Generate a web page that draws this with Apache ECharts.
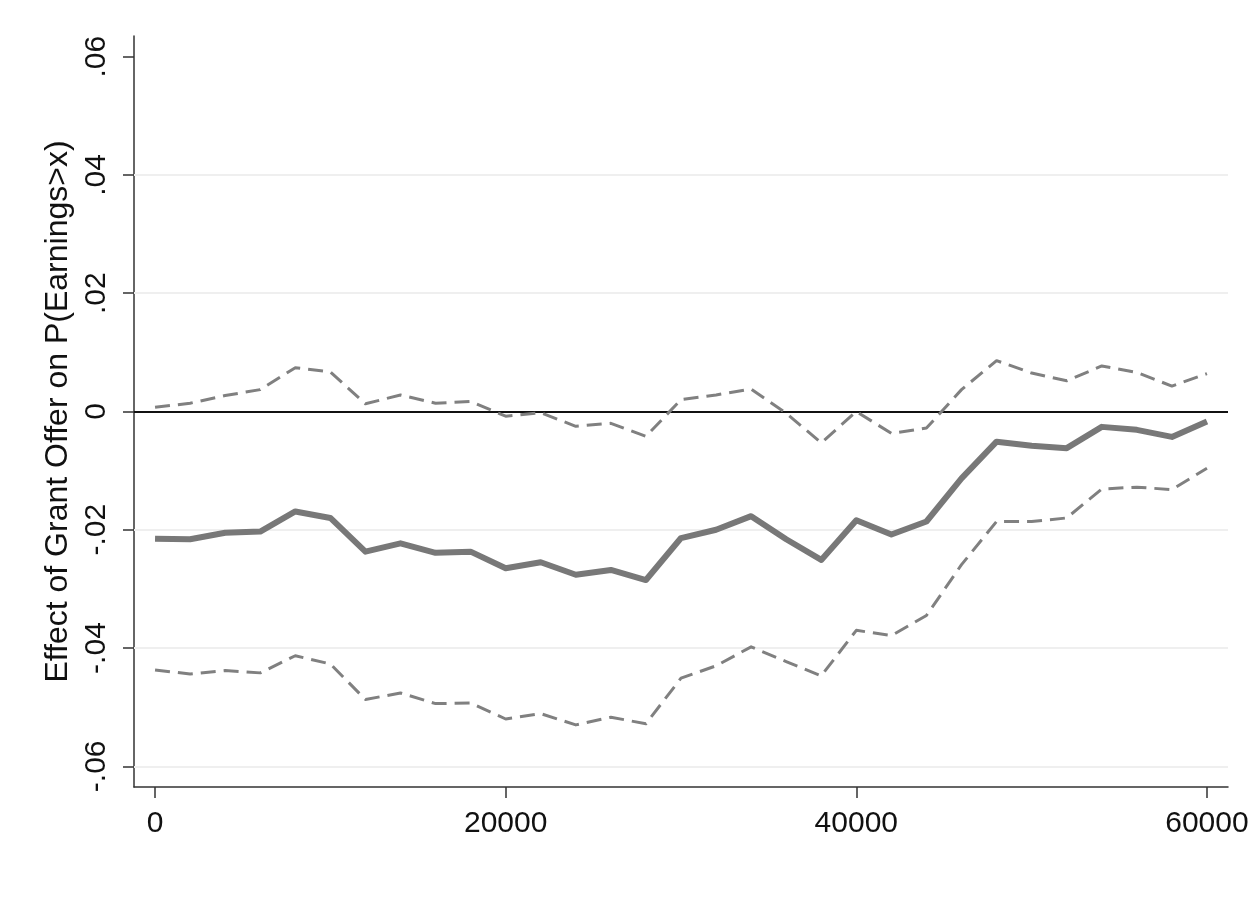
<!DOCTYPE html>
<html>
<head>
<meta charset="utf-8">
<script src="https://cdn.jsdelivr.net/npm/echarts@6/dist/echarts.min.js"></script>
<style>
  html, body { margin: 0; padding: 0; background: #ffffff; }
  #chart { width: 1256px; height: 907px; }
</style>
</head>
<body>
<div id="chart"></div>
<script>
// Earnings thresholds x (every 2000)
const thresholds = [
  0, 2000, 4000, 6000, 8000, 10000, 12000, 14000, 16000, 18000,
  20000, 22000, 24000, 26000, 28000, 30000, 32000, 34000, 36000, 38000,
  40000, 42000, 44000, 46000, 48000, 50000, 52000, 54000, 56000, 58000, 60000
];

// Point estimate of the effect on P(Earnings > x)
const effect = [
  -0.0215, -0.0216, -0.0205, -0.0203, -0.0169, -0.0180, -0.0237, -0.0223, -0.0239, -0.0237,
  -0.0265, -0.0255, -0.0276, -0.0268, -0.0285, -0.0214, -0.0200, -0.0177, -0.0216, -0.0251,
  -0.0184, -0.0208, -0.0186, -0.0113, -0.0051, -0.0058, -0.0062, -0.0026, -0.0031, -0.0043, -0.0017
];

// Upper confidence bound
const upperCI = [
  0.0007, 0.0014, 0.0027, 0.0037, 0.0074, 0.0067, 0.0013, 0.0028, 0.0014, 0.0017,
  -0.0008, -0.0002, -0.0025, -0.0020, -0.0042, 0.0020, 0.0028, 0.0038, -0.0003, -0.0053,
  0.0000, -0.0037, -0.0028, 0.0037, 0.0086, 0.0065, 0.0052, 0.0077, 0.0066, 0.0043, 0.0064
];

// Lower confidence bound
const lowerCI = [
  -0.0437, -0.0444, -0.0438, -0.0442, -0.0413, -0.0427, -0.0487, -0.0476, -0.0494, -0.0493,
  -0.0520, -0.0511, -0.0530, -0.0517, -0.0528, -0.0451, -0.0430, -0.0398, -0.0423, -0.0447,
  -0.0370, -0.0379, -0.0345, -0.0259, -0.0186, -0.0186, -0.0180, -0.0131, -0.0128, -0.0132, -0.0096
];

const xTicks = [0, 20000, 40000, 60000];
const yTicks = [-0.06, -0.04, -0.02, 0, 0.02, 0.04, 0.06];
const yGridValues = [-0.06, -0.04, -0.02, 0.02, 0.04];
const yTitle = 'Effect of Grant Offer on P(Earnings>x)';

const pair = ys => thresholds.map((x, i) => [x, ys[i]]);

// Stata-style decimal labels: .04, -.02, 0
const fmtY = v => {
  if (Math.abs(v) < 1e-9) return '0';
  const s = Math.abs(v).toFixed(2).replace(/^0/, '');
  return (v < 0 ? '-' : '') + s;
};
const fmtX = v => String(Math.round(v));

const FONT = 'Liberation Sans, Arial, sans-serif';
const chart = echarts.init(document.getElementById('chart'), null, { renderer: 'canvas' });

chart.setOption({
  animation: false,
  backgroundColor: '#ffffff',
  grid: { left: 134, right: 28, top: 36, bottom: 120, containLabel: false },
  xAxis: {
    type: 'value',
    min: -1200,
    max: 61200,
    axisLine: { show: true, onZero: false, lineStyle: { color: '#333333', width: 1.5 } },
    axisTick: { show: true, length: 11, customValues: xTicks, lineStyle: { color: '#333333', width: 1.5 } },
    axisLabel: { customValues: xTicks, formatter: fmtX, color: '#111111', fontFamily: FONT, fontSize: 30, margin: 22 },
    splitLine: { show: false }
  },
  yAxis: {
    type: 'value',
    min: -0.0635,
    max: 0.0635,
    name: yTitle,
    nameLocation: 'middle',
    nameRotate: 90,
    nameGap: 50,
    nameTextStyle: { color: '#111111', fontFamily: FONT, fontSize: 32 },
    axisLine: { show: true, onZero: false, lineStyle: { color: '#333333', width: 1.5 } },
    axisTick: { show: true, length: 11, customValues: yTicks, lineStyle: { color: '#333333', width: 1.5 } },
    axisLabel: {
      customValues: yTicks,
      rotate: 90,
      formatter: fmtY,
      color: '#111111',
      fontFamily: FONT,
      fontSize: 30,
      margin: 22
    },
    splitLine: { show: false }
  },
  series: [
    {
      name: 'upper',
      type: 'line',
      data: pair(upperCI),
      symbol: 'none',
      z: 3,
      lineStyle: { color: '#808080', width: 3, type: [15, 8], join: 'round' },
      markLine: {
        silent: true,
        symbol: 'none',
        label: { show: false },
        z: 1,
        data: yGridValues.map(v => ({ yAxis: v, lineStyle: { color: '#efefef', width: 2, type: 'solid' } }))
          .concat([{ yAxis: 0, lineStyle: { color: '#111111', width: 1.8, type: 'solid' } }])
      }
    },
    {
      name: 'lower',
      type: 'line',
      data: pair(lowerCI),
      symbol: 'none',
      z: 3,
      lineStyle: { color: '#808080', width: 3, type: [15, 8], join: 'round' }
    },
    {
      name: 'effect',
      type: 'line',
      data: pair(effect),
      symbol: 'none',
      z: 4,
      lineStyle: { color: '#787878', width: 6, type: 'solid', join: 'round' }
    }
  ]
});
</script>
</body>
</html>
